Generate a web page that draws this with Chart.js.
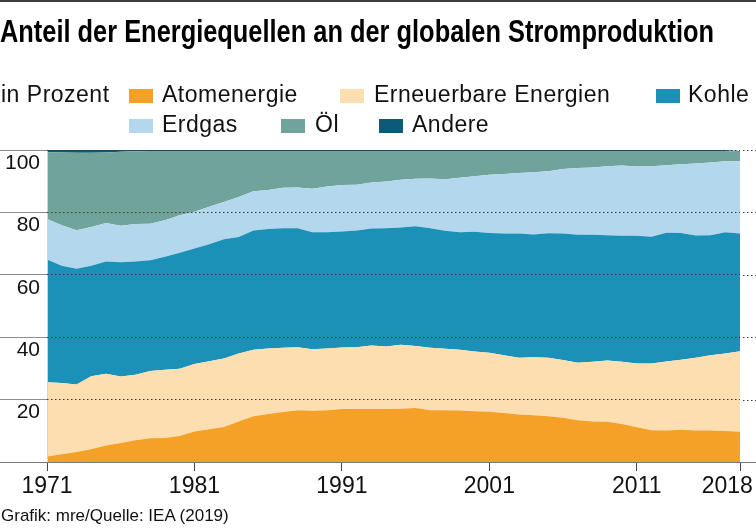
<!DOCTYPE html>
<html lang="de">
<head>
<meta charset="utf-8">
<title>Anteil der Energiequellen an der globalen Stromproduktion</title>
<script src="https://cdn.jsdelivr.net/npm/chart.js@4"></script>
<style>
  html, body { margin: 0; padding: 0; background: #fff; }
  body { width: 756px; height: 530px; position: relative; overflow: hidden; font-family: 'Liberation Sans', Arial, sans-serif; color: #111; }
  #topbar { position: absolute; left: 0; top: 0; width: 756px; height: 2px; background: #3c3c3c; }
  #chart { position: absolute; left: 0; top: 0; }
  .txt { position: absolute; white-space: nowrap; line-height: 1; }
  #title { left: 0; top: 16px; font-family: 'Liberation Sans', Arial, sans-serif; font-weight: bold; font-size: 31px; color: #000; transform-origin: 0 0; }
  .lg { font-size: 23px; letter-spacing: 0.5px; }
  .sw { position: absolute; width: 24px; height: 14px; }
  #source { left: 1px; top: 507px; font-size: 17px; }
</style>
</head>
<body>
<div id="topbar"></div>
<canvas id="chart" width="756" height="530"></canvas>
<div id="title" class="txt">Anteil der Energiequellen an der globalen Stromproduktion</div>
<div id="legend"></div>
<div id="source" class="txt">Grafik: mre/Quelle: IEA (2019)</div>
<script>
var YEARS = ['1971', '1972', '1973', '1974', '1975', '1976', '1977', '1978', '1979', '1980',
  '1981', '1982', '1983', '1984', '1985', '1986', '1987', '1988', '1989', '1990',
  '1991', '1992', '1993', '1994', '1995', '1996', '1997', '1998', '1999', '2000',
  '2001', '2002', '2003', '2004', '2005', '2006', '2007', '2008', '2009', '2010',
  '2011', '2012', '2013', '2014', '2015', '2016', '2017', '2018'];

var SHOWN_YEARS = ['1971', '1981', '1991', '2001', '2011', '2018'];
var Y_TICKS = [0, 20, 40, 60, 80, 100];

// Anteile in Prozent, von unten nach oben gestapelt
var ATOM = [1.8, 2.5, 3.2, 4.1, 5.3, 6.1, 7.0, 7.6, 7.7, 8.3,
  9.8, 10.5, 11.2, 13.0, 14.7, 15.4, 16.0, 16.6, 16.4, 16.6,
  17.0, 17.0, 17.0, 17.0, 17.1, 17.3, 16.6, 16.6, 16.5, 16.3,
  16.1, 15.7, 15.2, 15.0, 14.7, 14.2, 13.4, 13.0, 12.9, 12.2,
  11.1, 10.2, 10.1, 10.3, 10.1, 10.1, 9.9, 9.7];
var ERNEUERBAR = [23.8, 22.8, 21.6, 23.4, 23.0, 21.3, 21.0, 21.6, 21.9, 21.6,
  21.6, 21.8, 22.0, 21.8, 21.3, 21.0, 20.6, 20.2, 19.7, 19.8,
  19.7, 19.8, 20.3, 20.0, 20.5, 19.9, 20.0, 19.7, 19.5, 19.1,
  18.9, 18.5, 18.2, 18.6, 18.7, 18.5, 18.4, 19.1, 19.6, 19.9,
  20.5, 21.4, 22.1, 22.5, 23.3, 24.1, 24.9, 25.8];
var KOHLE = [39.3, 37.6, 37.1, 35.4, 36.0, 36.6, 36.3, 35.5, 36.2, 37.2,
  37.0, 37.5, 38.2, 37.3, 38.2, 38.3, 38.3, 38.1, 37.5, 37.2,
  37.2, 37.4, 37.5, 37.9, 37.6, 38.4, 38.3, 37.8, 37.6, 38.4,
  38.4, 39.0, 39.8, 39.3, 39.9, 40.5, 41.0, 40.7, 40.2, 40.4,
  40.9, 40.6, 41.3, 40.6, 39.2, 38.5, 38.8, 37.7];
var ERDGAS = [13.0, 13.0, 12.4, 12.4, 12.3, 11.7, 12.0, 11.7, 11.7, 12.0,
  11.8, 12.0, 11.9, 12.8, 12.6, 12.5, 13.0, 13.1, 14.0, 14.7,
  14.9, 14.7, 14.8, 15.0, 15.3, 15.2, 16.0, 16.5, 17.5, 17.8,
  18.7, 19.1, 19.4, 20.0, 19.9, 20.7, 21.4, 21.6, 22.1, 22.5,
  22.2, 22.6, 21.6, 22.0, 23.1, 23.3, 22.8, 23.2];
var OEL = [21.4, 23.3, 24.8, 23.8, 22.6, 23.7, 23.3, 23.3, 22.2, 20.6,
  19.5, 17.9, 16.4, 14.8, 12.9, 12.5, 11.8, 11.7, 12.1, 11.4,
  10.9, 10.8, 10.1, 9.8, 9.2, 8.9, 8.8, 9.1, 8.6, 8.1,
  7.6, 7.4, 7.1, 6.8, 6.5, 5.8, 5.5, 5.3, 4.9, 4.7,
  5.0, 4.9, 4.6, 4.3, 4.0, 3.7, 3.3, 3.0];
var ANDERE = [0.7, 0.8, 0.9, 0.9, 0.8, 0.6, 0.4, 0.3, 0.3, 0.3,
  0.3, 0.3, 0.3, 0.3, 0.3, 0.3, 0.3, 0.3, 0.3, 0.3,
  0.3, 0.3, 0.3, 0.3, 0.3, 0.3, 0.3, 0.3, 0.3, 0.3,
  0.3, 0.3, 0.3, 0.3, 0.3, 0.3, 0.3, 0.3, 0.3, 0.3,
  0.3, 0.3, 0.3, 0.3, 0.3, 0.3, 0.3, 0.3];

var SERIES_NAMES = ['Atomenergie', 'Erneuerbare Energien', 'Kohle', 'Erdgas', 'Öl', 'Andere'];
var SERIES_COLORS = ['#F5A027', '#FCDEB0', '#1C91B7', '#B3D7EC', '#70A39A', '#0B5B78'];

(function () {
  'use strict';

  var FONT = "'Liberation Sans', Arial, sans-serif";
  var DOT = '#3a3a3a';
  var SOLID = '#8c8c8c';
  var DASH = [1.5, 2.5];
  var TITLE_WIDTH = 714;

  // legend: [series index, swatch x, text x, row]
  var LEGEND_POS = [
    [0, 129, 162, 0], [1, 340, 374, 0], [2, 656, 688, 0],
    [3, 129, 162, 1], [4, 281, 315, 1], [5, 379, 412, 1]
  ];
  var ROW_TEXT_TOP = [82.5, 112.8];
  var ROW_SW_TOP = [89, 119];

  function fitTitle() {
    var t = document.getElementById('title');
    var w = t.getBoundingClientRect().width;
    if (w > 0) t.style.transform = 'scaleX(' + (TITLE_WIDTH / w) + ')';
  }

  function buildLegend() {
    var box = document.getElementById('legend');
    var lead = document.createElement('div');
    lead.className = 'txt lg';
    lead.style.left = '1px';
    lead.style.top = ROW_TEXT_TOP[0] + 'px';
    lead.textContent = 'in Prozent';
    box.appendChild(lead);
    LEGEND_POS.forEach(function (p) {
      var sw = document.createElement('div');
      sw.className = 'sw';
      sw.style.left = p[1] + 'px';
      sw.style.top = ROW_SW_TOP[p[3]] + 'px';
      sw.style.background = SERIES_COLORS[p[0]];
      box.appendChild(sw);
      var t = document.createElement('div');
      t.className = 'txt lg';
      t.style.left = p[2] + 'px';
      t.style.top = ROW_TEXT_TOP[p[3]] + 'px';
      t.textContent = SERIES_NAMES[p[0]];
      box.appendChild(t);
    });
  }

  // dotted grid continues past the plot to the right edge; baseline spans the full width
  var gridExtend = {
    id: 'gridExtend',
    afterDraw: function (chart) {
      var ys = chart.scales.y;
      var right = chart.chartArea.right;
      var c = chart.ctx;
      c.save();
      c.lineWidth = 1;
      Y_TICKS.forEach(function (v) {
        var y = Math.round(ys.getPixelForValue(v)) + 0.5;
        c.beginPath();
        if (v === 0) {
          c.setLineDash([]);
          c.strokeStyle = '#7a7a7a';
          c.moveTo(0, y);
        } else {
          c.setLineDash(DASH);
          c.strokeStyle = DOT;
          c.moveTo(right + 3, y);
        }
        c.lineTo(chart.width, y);
        c.stroke();
      });
      c.restore();
    }
  };

  var all = [ATOM, ERNEUERBAR, KOHLE, ERDGAS, OEL, ANDERE];
  var datasets = all.map(function (vals, i) {
    return {
      label: SERIES_NAMES[i],
      data: vals,
      backgroundColor: SERIES_COLORS[i],
      borderColor: SERIES_COLORS[i],
      borderWidth: 0,
      pointRadius: 0,
      fill: i === 0 ? 'origin' : '-1',
      tension: 0
    };
  });

  buildLegend();
  fitTitle();

  new Chart(document.getElementById('chart'), {
    type: 'line',
    data: { labels: YEARS, datasets: datasets },
    plugins: [gridExtend],
    options: {
      responsive: false,
      animation: false,
      layout: { padding: { top: 150, right: 16, bottom: 0, left: 0 } },
      plugins: { legend: { display: false }, tooltip: { enabled: false } },
      scales: {
        x: {
          stacked: true,
          offset: false,
          afterFit: function (s) { s.height = 68; s.paddingLeft = 0; s.paddingRight = 0; },
          grid: {
            z: 1,
            color: function (ctx) {
              var i = ctx.index;
              return (i === 0 || i === YEARS.length - 1) ? '#c9d6dc' : 'rgba(0,0,0,0)';
            },
            tickColor: '#444',
            tickLength: 9
          },
          border: { display: false },
          ticks: {
            autoSkip: false,
            maxRotation: 0,
            padding: 2,
            color: '#111',
            font: { family: FONT, size: 23 },
            callback: function (v, i) {
              var y = YEARS[i];
              if (SHOWN_YEARS.indexOf(y) < 0) return null;
              return i === YEARS.length - 1 ? y + '    ' : y;
            }
          }
        },
        y: {
          stacked: true,
          min: 0,
          max: 100,
          afterFit: function (s) { s.width = 47; s.paddingTop = 0; s.paddingBottom = 0; },
          afterBuildTicks: function (s) { s.ticks = Y_TICKS.map(function (v) { return { value: v }; }); },
          grid: {
            z: 1,
            color: function (ctx) { return ctx.tick && ctx.tick.value === 0 ? 'rgba(0,0,0,0)' : DOT; },
            lineWidth: 1,
            tickLength: 47,
            tickColor: SOLID,
            tickBorderDash: []
          },
          border: { display: false, dash: DASH },
          ticks: {
            padding: -40,
            labelOffset: 13,
            color: '#111',
            font: { family: FONT, size: 21 },
            callback: function (v) { return v === 0 ? '' : String(v); }
          }
        }
      }
    }
  });
})();
</script>
</body>
</html>
